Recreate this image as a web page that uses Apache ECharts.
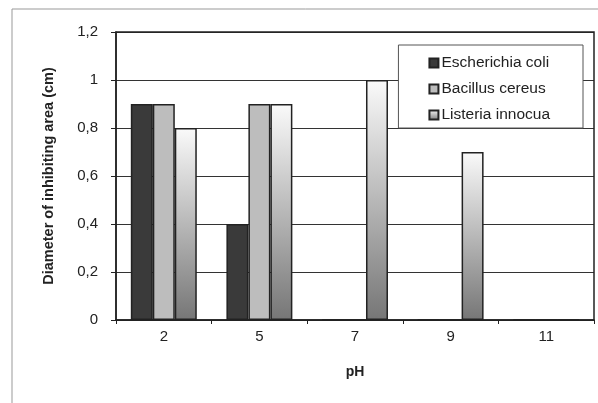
<!DOCTYPE html>
<html><head><meta charset="utf-8">
<script src="https://cdn.jsdelivr.net/npm/echarts@6/dist/echarts.min.js"></script>
<style>html,body{margin:0;padding:0;background:#fff}#c{width:598px;height:403px}</style>
</head><body><div id="c"></div>
<script>
const categories = ['2', '5', '7', '9', '11'];
const ecoli = [0.9, 0.4, 0, 0, 0];
const bacillus = [0.9, 0.9, 0, 0, 0];
const listeria = [0.8, 0.9, 1.0, 0.7, 0];
const seriesNames = ['Escherichia coli', 'Bacillus cereus', 'Listeria innocua'];

const chart = echarts.init(document.getElementById('c'), null, {renderer: 'canvas'});
const font = 'Liberation Sans, Arial, sans-serif';
const gradient = new echarts.graphic.LinearGradient(0, 0, 0, 1, [
  {offset: 0, color: '#fafafa'}, {offset: 1, color: '#767676'}
]);
const border = {borderColor: '#222', borderWidth: 1.5};
chart.setOption({
  animation: false,
  textStyle: {fontFamily: font},
  graphic: [
    {type: 'rect', shape: {x: 12, y: 9, width: 640, height: 440}, style: {fill: 'none', stroke: '#999', lineWidth: 1}, z: -10},
    {type: 'rect', shape: {x: 116, y: 32, width: 478, height: 288}, style: {fill: 'none', stroke: '#222', lineWidth: 1.5}, z: 10}
  ],
  grid: {left: 116, right: 4, top: 32, bottom: 83, containLabel: false},
  legend: {
    orient: 'vertical', right: 15, top: 45,
    data: seriesNames,
    icon: 'rect', itemWidth: 9, itemHeight: 9, itemGap: 10,
    padding: [10, 33, 5, 30],
    borderColor: '#555', borderWidth: 1, backgroundColor: '#fff',
    textStyle: {fontFamily: font, fontSize: 15.5, color: '#222', padding: [0, 0, 0, -2]}
  },
  xAxis: {
    type: 'category', data: categories,
    name: 'pH', nameLocation: 'middle', nameGap: 45,
    nameTextStyle: {fontFamily: font, fontSize: 14, fontWeight: 'bold', color: '#222'},
    axisLine: {lineStyle: {color: '#222', width: 1.5}},
    axisTick: {show: true, inside: false, length: 4, lineStyle: {color: '#222'}},
    axisLabel: {fontFamily: font, fontSize: 15, color: '#222', margin: 9}
  },
  yAxis: {
    type: 'value', min: 0, max: 1.2, interval: 0.2,
    name: 'Diameter of inhibiting area (cm)', nameLocation: 'middle', nameGap: 60, nameRotate: 90,
    nameTextStyle: {fontFamily: font, fontSize: 14.5, fontWeight: 'bold', color: '#222'},
    axisLine: {show: true, lineStyle: {color: '#222', width: 1.5}},
    axisTick: {show: true, inside: false, length: 5, lineStyle: {color: '#222'}},
    axisLabel: {fontFamily: font, fontSize: 15, color: '#222', margin: 18,
      formatter: v => (Math.round(v * 10) / 10).toString().replace('.', ',')},
    splitLine: {show: true, lineStyle: {color: '#333', width: 1}}
  },
  series: [
    {name: seriesNames[0], type: 'bar', data: ecoli, barGap: '0%', barCategoryGap: '31%',
      itemStyle: Object.assign({color: '#3a3a3a'}, border)},
    {name: seriesNames[1], type: 'bar', data: bacillus, barGap: '0%', barCategoryGap: '31%',
      itemStyle: Object.assign({color: '#bdbdbd'}, border)},
    {name: seriesNames[2], type: 'bar', data: listeria, barGap: '0%', barCategoryGap: '31%',
      itemStyle: Object.assign({color: gradient}, border)}
  ]
});
</script></body></html>
